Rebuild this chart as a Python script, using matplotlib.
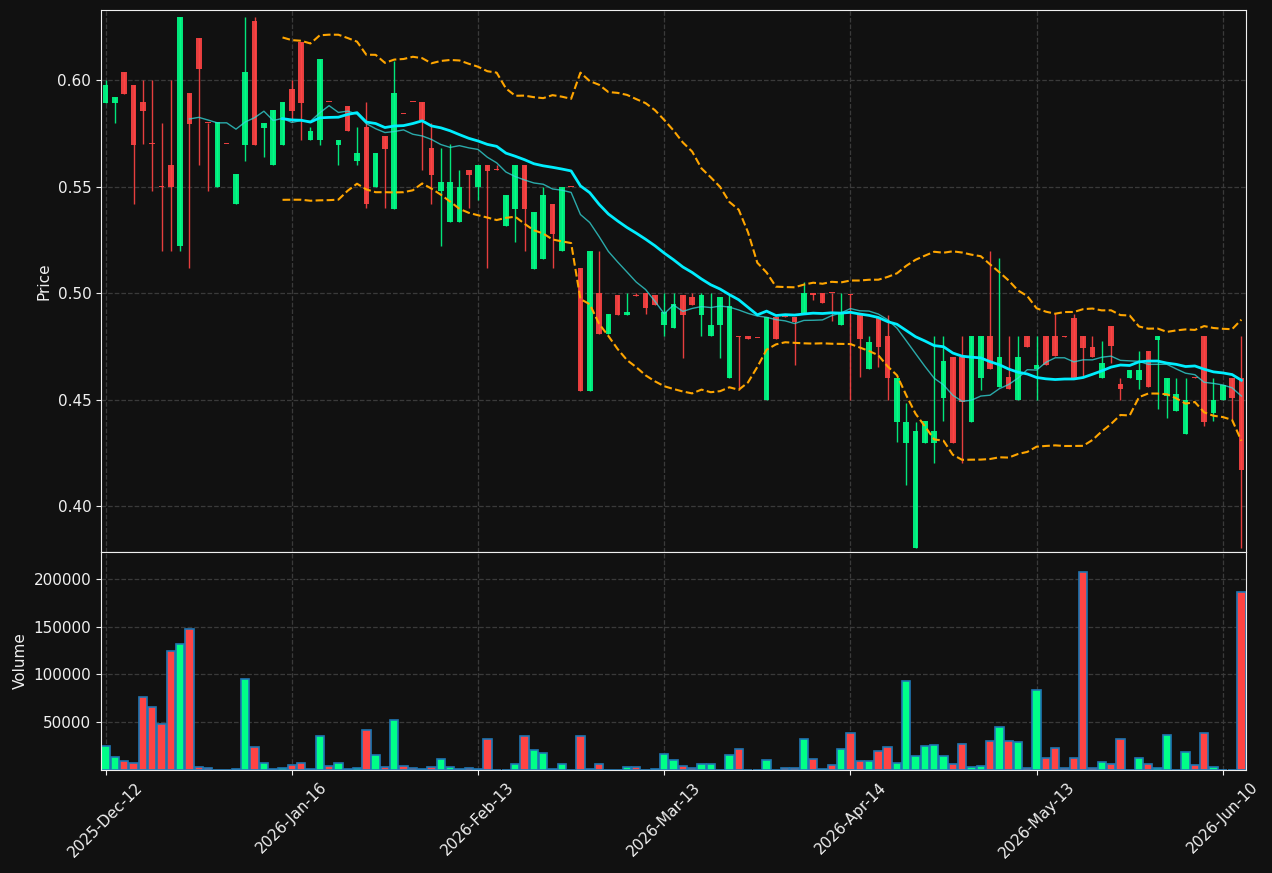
import numpy as np
import pandas as pd
import matplotlib
matplotlib.use('Agg')
import matplotlib.pyplot as plt

# --- DATA (one row per 10 sessions) ---
opens = [
    0.5894, 0.5894, 0.6039, 0.5979, 0.5899, 0.5702, 0.5500, 0.5603, 0.5220, 0.5941,
    0.6199, 0.5800, 0.5497, 0.5702, 0.5417, 0.5698, 0.6279, 0.5776, 0.5600, 0.5698,
    0.5961, 0.6180, 0.5718, 0.5718, 0.5899, 0.5698, 0.5881, 0.5620, 0.5780, 0.5497,
    0.5739, 0.5396, 0.5843, 0.5899, 0.5897, 0.5683, 0.5478, 0.5337, 0.5337, 0.5579,
    0.5497, 0.5603, 0.5580, 0.5318, 0.5396, 0.5603, 0.5115, 0.5159, 0.5420, 0.5197,
    0.5500, 0.5118, 0.4539, 0.5000, 0.4808, 0.4991, 0.4898, 0.4991, 0.5000, 0.4991,
    0.4849, 0.4839, 0.4991, 0.4983, 0.4898, 0.4797, 0.4849, 0.4600, 0.4798, 0.4800,
    0.4791, 0.4498, 0.4890, 0.4891, 0.4890, 0.4903, 0.5000, 0.5000, 0.5001, 0.4849,
    0.4995, 0.4898, 0.4642, 0.4890, 0.4797, 0.4397, 0.4297, 0.3804, 0.4297, 0.4297,
    0.4506, 0.4699, 0.4699, 0.4397, 0.4600, 0.4800, 0.4560, 0.4607, 0.4498, 0.4797,
    0.4642, 0.4800, 0.4797, 0.4798, 0.4882, 0.4797, 0.4748, 0.4604, 0.4847, 0.4575,
    0.4600, 0.4591, 0.4727, 0.4779, 0.4518, 0.4449, 0.4338, 0.4605, 0.4800, 0.4437,
    0.4498, 0.4604, 0.4604,
]
highs = [
    0.6000, 0.5923, 0.6039, 0.5979, 0.6000, 0.6000, 0.5799, 0.6000, 0.6299, 0.5941,
    0.6199, 0.5800, 0.5804, 0.5702, 0.5561, 0.6299, 0.6299, 0.5801, 0.5861, 0.5899,
    0.6000, 0.6180, 0.5780, 0.6101, 0.5899, 0.5721, 0.5881, 0.5780, 0.5897, 0.5659,
    0.5739, 0.6093, 0.5843, 0.5899, 0.5897, 0.5799, 0.5682, 0.5701, 0.5579, 0.5579,
    0.5603, 0.5603, 0.5603, 0.5463, 0.5603, 0.5603, 0.5383, 0.5497, 0.5420, 0.5499,
    0.5500, 0.5118, 0.5200, 0.5200, 0.4903, 0.4991, 0.5000, 0.5000, 0.5000, 0.4991,
    0.5000, 0.5000, 0.4991, 0.5000, 0.5000, 0.5000, 0.4983, 0.4991, 0.4798, 0.4800,
    0.4791, 0.4890, 0.4890, 0.4891, 0.4890, 0.5053, 0.5000, 0.5000, 0.5001, 0.5000,
    0.4995, 0.4898, 0.4797, 0.4890, 0.4898, 0.4604, 0.4485, 0.4397, 0.4400, 0.4797,
    0.4797, 0.4699, 0.4797, 0.4797, 0.4800, 0.5200, 0.5167, 0.4797, 0.4797, 0.4797,
    0.4797, 0.4800, 0.4906, 0.4798, 0.4903, 0.4797, 0.4797, 0.4776, 0.4847, 0.4604,
    0.4640, 0.4727, 0.4727, 0.4800, 0.4604, 0.4604, 0.4604, 0.4605, 0.4800, 0.4604,
    0.4567, 0.4604, 0.4800,
]
lows = [
    0.5894, 0.5799, 0.5938, 0.5419, 0.5701, 0.5478, 0.5200, 0.5200, 0.5200, 0.5118,
    0.5603, 0.5478, 0.5497, 0.5700, 0.5417, 0.5621, 0.5698, 0.5639, 0.5600, 0.5698,
    0.5804, 0.5719, 0.5718, 0.5698, 0.5896, 0.5600, 0.5760, 0.5600, 0.5399, 0.5497,
    0.5399, 0.5396, 0.5841, 0.5896, 0.5579, 0.5417, 0.5220, 0.5337, 0.5337, 0.5399,
    0.5437, 0.5118, 0.5578, 0.5318, 0.5241, 0.5200, 0.5115, 0.5159, 0.5118, 0.5197,
    0.5498, 0.4539, 0.4539, 0.4808, 0.4808, 0.4898, 0.4898, 0.4989, 0.4903, 0.4947,
    0.4800, 0.4839, 0.4698, 0.4947, 0.4797, 0.4797, 0.4698, 0.4600, 0.4544, 0.4787,
    0.4789, 0.4498, 0.4787, 0.4889, 0.4665, 0.4903, 0.4968, 0.4955, 0.4869, 0.4849,
    0.4498, 0.4608, 0.4642, 0.4653, 0.4498, 0.4302, 0.4098, 0.3804, 0.4297, 0.4204,
    0.4400, 0.4297, 0.4204, 0.4397, 0.4547, 0.4645, 0.4560, 0.4550, 0.4498, 0.4748,
    0.4498, 0.4661, 0.4705, 0.4796, 0.4604, 0.4612, 0.4699, 0.4604, 0.4673, 0.4498,
    0.4600, 0.4550, 0.4560, 0.4457, 0.4416, 0.4449, 0.4338, 0.4603, 0.4376, 0.4400,
    0.4498, 0.4408, 0.3804,
]
closes = [
    0.5979, 0.5923, 0.5938, 0.5698, 0.5858, 0.5700, 0.5498, 0.5497, 0.6299, 0.5796,
    0.6054, 0.5798, 0.5804, 0.5700, 0.5561, 0.6039, 0.5698, 0.5801, 0.5861, 0.5899,
    0.5858, 0.5894, 0.5763, 0.6101, 0.5896, 0.5721, 0.5760, 0.5659, 0.5417, 0.5659,
    0.5678, 0.5941, 0.5841, 0.5896, 0.5816, 0.5556, 0.5523, 0.5523, 0.5499, 0.5556,
    0.5603, 0.5576, 0.5578, 0.5463, 0.5603, 0.5396, 0.5383, 0.5463, 0.5277, 0.5499,
    0.5498, 0.4539, 0.5200, 0.4808, 0.4903, 0.4898, 0.4913, 0.4989, 0.4929, 0.4947,
    0.4913, 0.4950, 0.4898, 0.4947, 0.4991, 0.4852, 0.4983, 0.4939, 0.4796, 0.4787,
    0.4789, 0.4890, 0.4787, 0.4889, 0.4865, 0.5000, 0.4990, 0.4955, 0.4999, 0.4913,
    0.4993, 0.4787, 0.4772, 0.4748, 0.4600, 0.4604, 0.4397, 0.4354, 0.4400, 0.4354,
    0.4682, 0.4297, 0.4490, 0.4797, 0.4797, 0.4645, 0.4702, 0.4550, 0.4702, 0.4748,
    0.4664, 0.4661, 0.4705, 0.4796, 0.4604, 0.4743, 0.4699, 0.4673, 0.4754, 0.4550,
    0.4640, 0.4640, 0.4560, 0.4800, 0.4604, 0.4527, 0.4498, 0.4603, 0.4397, 0.4498,
    0.4567, 0.4506, 0.4171,
]
volumes = [
    24825, 13636, 9440, 7343, 76573, 66084, 48252, 124825, 132168, 147902,
    3147, 2098, 0, 0, 1000, 95454, 24126, 7343, 700, 2098,
    5245, 7343, 700, 35315, 3846, 7343, 700, 2098, 41958, 15734,
    3147, 52448, 3846, 2098, 700, 3147, 11538, 3147, 700, 2098,
    700, 32517, 500, 500, 6294, 35315, 20979, 17832, 700, 6294,
    300, 35315, 700, 6294, 500, 300, 3147, 3147, 300, 700,
    16783, 10490, 4196, 2098, 6294, 6294, 300, 15734, 22028, 200,
    200, 10490, 300, 2098, 2098, 32517, 11538, 700, 5245, 22028,
    38811, 9440, 9440, 19930, 24126, 7343, 93357, 14685, 25175, 26224,
    14685, 6294, 27273, 3147, 4196, 30420, 45105, 30420, 29371, 2098,
    83916, 12587, 23077, 2098, 12587, 207500, 2098, 8392, 6294, 32517,
    500, 12587, 6294, 2098, 36713, 500, 18881, 5245, 38811, 3147,
    300, 0, 186713,
]
tick_labels = ['2025-Dec-12', '2026-Jan-16', '2026-Feb-13', '2026-Mar-13',
               '2026-Apr-14', '2026-May-13', '2026-Jun-10']
TICK_STEP = 20
VOL_STEP = 50000

# --- STYLE ---
BG = '#111111'
UP = '#00ff88'
DOWN = '#ff4444'
FG = '#f0f0f0'
GRID = '#3a3a3a'

o = np.array(opens)
h = np.array(highs)
l = np.array(lows)
c = np.array(closes)
x = np.arange(len(c))
colors = np.where(c >= o, UP, DOWN)

# indicators from the closes
cs = pd.Series(c)
ma10 = cs.rolling(10).mean()
ma20 = cs.rolling(20).mean()
sd20 = cs.rolling(20).std(ddof=0)
bb_up = ma20 + 2 * sd20
bb_dn = ma20 - 2 * sd20

plt.rcParams['font.size'] = 11
fig = plt.figure(figsize=(12.72, 8.73), dpi=100, facecolor=BG)
gs = fig.add_gridspec(2, 1, height_ratios=[542, 218], hspace=0,
                      left=0.0794, right=0.9796, top=0.9886, bottom=0.118)
ax = fig.add_subplot(gs[0])
axv = fig.add_subplot(gs[1], sharex=ax)

# candles
ax.vlines(x, l, h, colors=colors, lw=1, alpha=0.9, zorder=2)
body = np.maximum(np.abs(c - o), 0.0005)
ax.bar(x, body, bottom=np.minimum(o, c), width=0.6, color=colors,
       alpha=0.9, zorder=3)

ax.plot(x, ma10, color='#33dddd', lw=1, alpha=0.75, zorder=4)
ax.plot(x, ma20, color='#00eeff', lw=2, zorder=4)
ax.plot(x, bb_up, color='orange', lw=1.5, ls='--', zorder=4)
ax.plot(x, bb_dn, color='orange', lw=1.5, ls='--', zorder=4)
ax.set_ylim(l.min() * 0.995, h.max() * 1.005)
ax.set_ylabel('Price', color=FG)

# volume
vtop = max(volumes) * 1.1
axv.bar(x, volumes, width=0.9, color=colors, edgecolor='#1f77b4', lw=1.2)
axv.set_ylim(0, vtop)
axv.set_yticks(np.arange(VOL_STEP, vtop, VOL_STEP))
axv.set_ylabel('Volume', color=FG)

axv.set_xlim(-0.5, len(c) - 0.5)
axv.set_xticks(np.arange(0, len(c), TICK_STEP))
axv.set_xticklabels(tick_labels, rotation=45)
plt.setp(ax.get_xticklabels(), visible=False)

for a in (ax, axv):
    a.set_facecolor(BG)
    a.grid(True, ls='--', color=GRID, lw=0.9)
    a.set_axisbelow(True)
    a.tick_params(colors=FG, labelcolor=FG)
    for s in a.spines.values():
        s.set_color(FG)

fig.savefig('out.png', dpi=100, facecolor=BG)
